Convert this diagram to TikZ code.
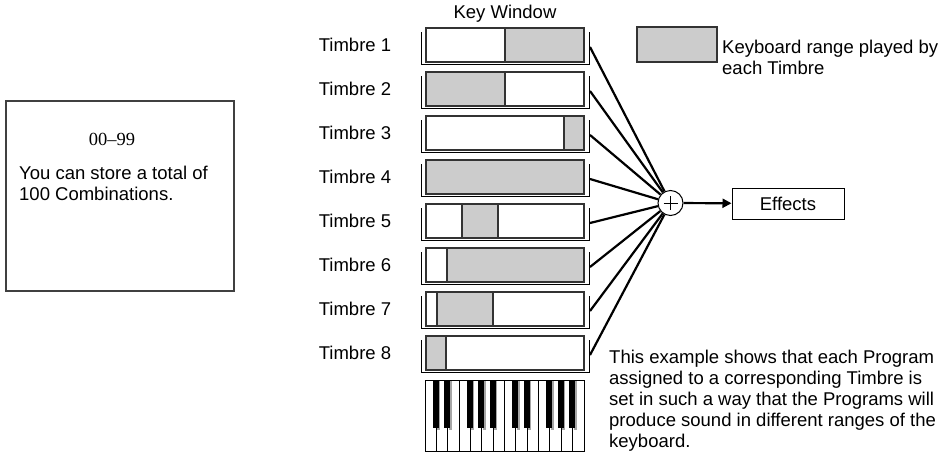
\documentclass[tikz,border=0pt]{standalone}
\usepackage{fontspec}
\setmainfont{Liberation Sans}
\newfontfamily\timesfont[Ligatures=TeX]{Liberation Serif}
\usetikzlibrary{arrows.meta}
\definecolor{rangegray}{HTML}{CCCCCC}
\tikzset{
  boxline/.style={line width=1.3pt, draw=black!80},
  bracketline/.style={line width=0.9pt},
  feed/.style={line width=2.2pt},
}

\begin{document}
\begin{tikzpicture}[x=1pt,y=-1pt,font=\fontsize{18.5}{21}\selectfont]
  \useasboundingbox (0,0) rectangle (946,458);

  \draw[line width=1.2pt, draw=black!75] (6,101) rectangle (234,291);
  \node (range) at (112,139) {\timesfont 00--99};
  \node[anchor=north west, align=left, inner sep=0] (store) at (19,166) {You can store a total of\\100 Combinations.};

  \node (kw) at (505,14) {Key Window};
  \node[circle, draw, line width=1pt, fill=white, minimum size=25pt, inner sep=0] (sum) at (670.5,203) {};
  \draw[line width=1pt] ([xshift=-7pt]sum.center) -- ([xshift=7pt]sum.center)
    ([yshift=-7pt]sum.center) -- ([yshift=7pt]sum.center);

  \foreach \i/\a/\b in {1/505/584, 2/426/505, 3/564/584, 4/426/584,
                        5/462/498, 6/447/584, 7/437/493, 8/426/446} {
    \pgfmathsetmacro\y{45+44*(\i-1)}
    \node (t\i) at (355,\y) {Timbre \i};
    \draw[bracketline] (421,\y-13) -- (421,\y+19) -- (589,\y+19) -- (589,\y-13);
    \fill[rangegray] (\a,\y-17) rectangle (\b,\y+17);
    \draw[boxline] (\a,\y-17) -- (\a,\y+17) (\b,\y-17) -- (\b,\y+17);
    \draw[boxline] (426,\y-17) rectangle (584,\y+17);
    \coordinate (r\i) at (590,\y+2);
    \draw[feed] (r\i) -- (sum);
  }

  \node[draw, boxline, fill=rangegray, minimum width=80pt, minimum height=35pt] (legend) at (677,44.5) {};
  \node[anchor=north west, align=left, inner sep=0] (legtext) at (722,40) {Keyboard range played by\\each Timbre};

  \node[draw, line width=1pt, minimum width=112pt, minimum height=31pt] (fx) at (788,203.5) {Effects};
  \draw[feed, -{Triangle[length=9pt,width=9pt]}] (sum) -- (fx);

  \foreach \k in {0,...,13}
    \draw[line width=1pt, fill=white] (425+\k*11.357,380) rectangle ++(11.357,71);
  \foreach \k in {1,2,4,5,6,8,9,11,12,13} {
    \fill[black!35] (425+\k*11.357+1,381) rectangle ++(3,49);
    \fill (425+\k*11.357-3.5,380) rectangle ++(6,48);
  }

  \node[anchor=north west, align=left, inner sep=0] (note) at (609,350) {This example shows that each Program\\assigned to a corresponding Timbre is\\set in such a way that the Programs will\\produce sound in different ranges of the\\keyboard.};
\end{tikzpicture}
\end{document}
